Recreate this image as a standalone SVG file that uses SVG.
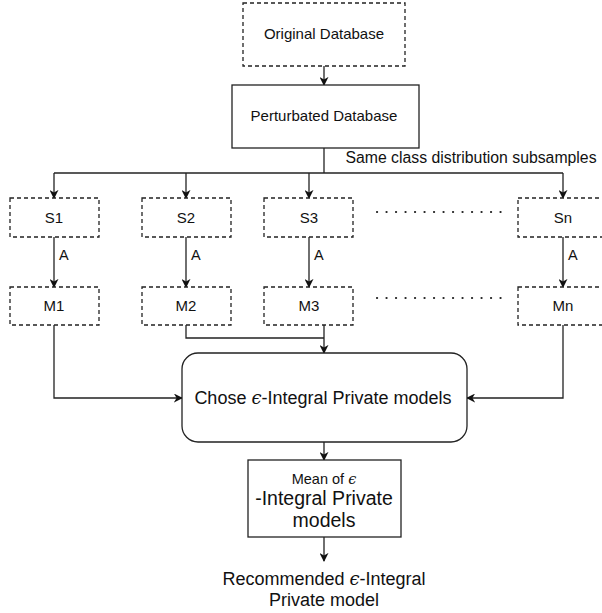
<svg xmlns="http://www.w3.org/2000/svg" width="602" height="613" viewBox="0 0 602 613">
  <defs>
    <marker id="arrow" viewBox="0 0 10 10" refX="9" refY="5" markerWidth="9" markerHeight="9" markerUnits="userSpaceOnUse" orient="auto">
      <path d="M0,0 L10,5 L0,10 L3,5 Z" fill="#111"/>
    </marker>
  </defs>
  <style>
    text { font-family: "Liberation Sans", Arial, sans-serif; fill: #111; text-anchor: middle; }
    .eps { font-family: "DejaVu Serif", "DejaVu Sans", serif; font-style: italic; }
    .dash { fill: #fff; stroke: #222; stroke-width: 1.3; stroke-dasharray: 4 3; }
    .solid { fill: #fff; stroke: #222; stroke-width: 1.3; }
    .edge { fill: none; stroke: #222; stroke-width: 1.3; }
    .arr { marker-end: url(#arrow); }
    .dots { fill: none; stroke: #222; stroke-width: 2.2; stroke-dasharray: 0.1 9.4; stroke-linecap: round; }
    .n { font-size: 15px; }
    .lbl { font-size: 14.5px; text-anchor: start; }
  </style>
  <rect width="602" height="613" fill="#fff"/>

  <g id="connectors">
    <line class="edge arr" x1="324" y1="66" x2="324" y2="85"/>
    <polyline class="edge" points="324,148 324,173"/>
    <line class="edge" x1="54" y1="173" x2="563" y2="173"/>
    <line class="edge arr" x1="54" y1="173" x2="54" y2="198"/>
    <line class="edge arr" x1="186" y1="173" x2="186" y2="198"/>
    <line class="edge arr" x1="309" y1="173" x2="309" y2="198"/>
    <line class="edge arr" x1="563" y1="173" x2="563" y2="198"/>
    <line class="edge arr" x1="54" y1="237" x2="54" y2="287"/>
    <line class="edge arr" x1="186" y1="237" x2="186" y2="287"/>
    <line class="edge arr" x1="309" y1="237" x2="309" y2="287"/>
    <line class="edge arr" x1="563" y1="237" x2="563" y2="287"/>
    <polyline class="edge arr" points="54,325 54,398 182,398"/>
    <polyline class="edge arr" points="563,325 563,398 467,398"/>
    <polyline class="edge" points="186,325 186,338 324,338"/>
    <line class="edge arr" x1="324" y1="325" x2="324" y2="353"/>
    <line class="edge arr" x1="324" y1="442" x2="324" y2="460"/>
    <line class="edge arr" x1="324" y1="537" x2="324" y2="561"/>
    <text class="lbl" x="59" y="260">A</text>
    <text class="lbl" x="191" y="260">A</text>
    <text class="lbl" x="314" y="260">A</text>
    <text class="lbl" x="568" y="260">A</text>
    <text x="471" y="163" style="font-size:15.8px">Same class distribution subsamples</text>
    <line class="dots" x1="377" y1="212" x2="502" y2="212"/>
    <line class="dots" x1="377" y1="298" x2="502" y2="298"/>
  </g>

  <g id="original-db">
    <rect class="dash" x="243" y="3" width="162" height="63"/>
    <text class="n" x="324" y="39">Original Database</text>
  </g>
  <g id="perturbated-db">
    <rect class="solid" x="232" y="85" width="187" height="63"/>
    <text class="n" x="324" y="121">Perturbated Database</text>
  </g>

  <g id="s1"><rect class="dash" x="10" y="198" width="89" height="39"/><text class="n" x="54" y="223">S1</text></g>
  <g id="s2"><rect class="dash" x="142" y="198" width="89" height="39"/><text class="n" x="186" y="223">S2</text></g>
  <g id="s3"><rect class="dash" x="264" y="198" width="89" height="39"/><text class="n" x="309" y="223">S3</text></g>
  <g id="sn"><rect class="dash" x="518" y="198" width="90" height="39"/><text class="n" x="563" y="223">Sn</text></g>

  <g id="m1"><rect class="dash" x="10" y="287" width="89" height="38"/><text class="n" x="54" y="311">M1</text></g>
  <g id="m2"><rect class="dash" x="142" y="287" width="89" height="38"/><text class="n" x="186" y="311">M2</text></g>
  <g id="m3"><rect class="dash" x="264" y="287" width="89" height="38"/><text class="n" x="309" y="311">M3</text></g>
  <g id="mn"><rect class="dash" x="518" y="287" width="90" height="38"/><text class="n" x="563" y="311">Mn</text></g>

  <g id="chose">
    <rect class="solid" x="182" y="353" width="285" height="89" rx="16" ry="16"/>
    <text x="323" y="404" style="font-size:18px">Chose <tspan class="eps">ϵ</tspan>-Integral Private models</text>
  </g>

  <g id="mean">
    <rect class="solid" x="248" y="460" width="153" height="77"/>
    <text x="324" y="484" style="font-size:14.5px">Mean of <tspan class="eps">ϵ</tspan></text>
    <text x="324" y="505" style="font-size:19.5px">-Integral Private</text>
    <text x="324" y="527" style="font-size:19.5px">models</text>
  </g>

  <g id="recommended">
    <text x="324" y="585" style="font-size:18px">Recommended <tspan class="eps">ϵ</tspan>-Integral</text>
    <text x="324" y="606" style="font-size:18px">Private model</text>
  </g>
</svg>
